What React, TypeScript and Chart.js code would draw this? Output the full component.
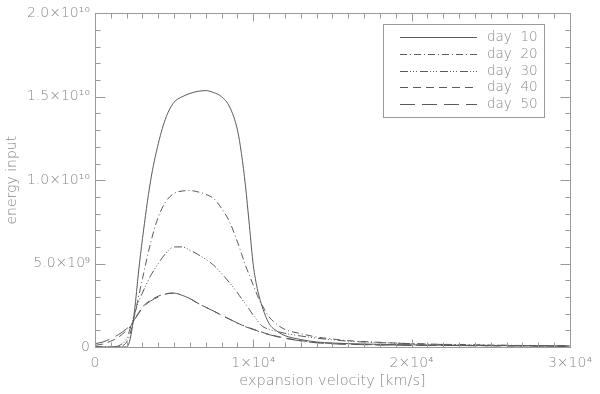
import React, { useEffect, useRef } from "react";
import { Chart, registerables } from "chart.js";

Chart.register(...registerables);

// expansion velocity [km/s]
const velocity = [0, 500, 1000, 1500, 2000, 2250, 2500, 2750, 3000, 3500, 4000, 4500, 5000, 5500, 6000, 6500, 7000, 7500, 8000, 8500, 9000, 9250, 9500, 9750, 10000, 10250, 10500, 11000, 11500, 12000, 13000, 14000, 15000, 16000, 18000, 20000, 22000, 24000, 26000, 28000, 30000];

// energy input in units of 10^10
const day10 = [0, 0, 0, 0, 0, 0.06, 0.22, 0.45, 0.65, 0.99, 1.22, 1.38, 1.468, 1.5, 1.52, 1.533, 1.537, 1.525, 1.5, 1.44, 1.3, 1.16, 0.97, 0.73, 0.49, 0.35, 0.26, 0.14, 0.095, 0.068, 0.045, 0.03, 0.024, 0.02, 0.016, 0.013, 0.011, 0.009, 0.008, 0.007, 0.006];
const day20 = [0, 0, 0, 0.003, 0.03, 0.09, 0.19, 0.3, 0.41, 0.62, 0.78, 0.875, 0.921, 0.935, 0.938, 0.93, 0.915, 0.89, 0.83, 0.75, 0.63, 0.56, 0.49, 0.43, 0.37, 0.31, 0.26, 0.18, 0.135, 0.105, 0.08, 0.06, 0.048, 0.038, 0.028, 0.02, 0.016, 0.013, 0.01, 0.008, 0.006];
const day30 = [0, 0, 0, 0.008, 0.05, 0.12, 0.2, 0.27, 0.325, 0.425, 0.5, 0.565, 0.6, 0.6, 0.58, 0.555, 0.525, 0.49, 0.44, 0.385, 0.325, 0.29, 0.26, 0.225, 0.19, 0.16, 0.13, 0.105, 0.093, 0.082, 0.066, 0.053, 0.043, 0.035, 0.026, 0.02, 0.015, 0.012, 0.01, 0.008, 0.006];
const day40 = [0.01, 0.018, 0.035, 0.06, 0.1, 0.125, 0.165, 0.205, 0.24, 0.28, 0.305, 0.32, 0.323, 0.31, 0.29, 0.262, 0.238, 0.215, 0.19, 0.167, 0.143, 0.133, 0.124, 0.115, 0.107, 0.099, 0.09, 0.076, 0.064, 0.054, 0.038, 0.027, 0.021, 0.017, 0.013, 0.011, 0.009, 0.008, 0.007, 0.006, 0.005];
const day50 = [0.02, 0.03, 0.05, 0.075, 0.11, 0.13, 0.165, 0.2, 0.235, 0.275, 0.3, 0.318, 0.323, 0.31, 0.29, 0.262, 0.238, 0.215, 0.19, 0.167, 0.143, 0.132, 0.122, 0.113, 0.105, 0.097, 0.088, 0.074, 0.062, 0.052, 0.036, 0.025, 0.019, 0.016, 0.012, 0.01, 0.009, 0.008, 0.007, 0.006, 0.005];

const seriesLabels = ["day  10", "day  20", "day  30", "day  40", "day  50"];
const seriesValues = [day10, day20, day30, day40, day50];
const seriesDashes = [[], [7, 3, 1, 3], [8, 2, 1, 2, 1, 2, 1, 3], [8, 5], [15, 7]];

const xTickLabels: Record<number, string> = { 0: "0", 10000: "1×10⁴", 20000: "2×10⁴", 30000: "3×10⁴" };
const yTickLabels: Record<string, string> = { "0": "0", "0.5": "5.0×10⁹", "1": "1.0×10¹⁰", "1.5": "1.5×10¹⁰", "2": "2.0×10¹⁰" };

const FONT = "DejaVu Sans";
const TEXT = "#8a8a8a";
const AXIS = "#9a9a9a";
const LINE = "#5a5a5a";

const framePlugin = {
  id: "idlFrame",
  afterDraw(chart: any) {
    const { ctx, chartArea: a, scales } = chart;
    const xs = scales.x;
    const ys = scales.y;
    ctx.save();
    ctx.strokeStyle = AXIS;
    ctx.lineWidth = 1;
    ctx.setLineDash([]);
    const L = Math.round(a.left) + 0.5;
    const R = Math.round(a.right) + 0.5;
    const T = Math.round(a.top) + 0.5;
    const B = Math.round(a.bottom) + 0.5;
    ctx.strokeRect(L, T, R - L, B - T);
    ctx.beginPath();
    for (let v = 0; v <= 30000; v += 1000) {
      const px = Math.round(xs.getPixelForValue(v)) + 0.5;
      const len = v % 10000 === 0 ? 8 : 5;
      ctx.moveTo(px, B);
      ctx.lineTo(px, B - len);
      ctx.moveTo(px, T);
      ctx.lineTo(px, T + len);
    }
    for (let i = 0; i <= 20; i++) {
      const py = Math.round(ys.getPixelForValue(i / 10)) + 0.5;
      const len = i % 5 === 0 ? 10 : 5;
      ctx.moveTo(L, py);
      ctx.lineTo(L + len, py);
      ctx.moveTo(R, py);
      ctx.lineTo(R - len, py);
    }
    ctx.stroke();

    // legend
    const bx = 383.5, by = 24.5, bw = 161, bh = 93;
    ctx.strokeRect(bx, by, bw, bh);
    ctx.font = `200 13.5px "${FONT}"`;
    ctx.textBaseline = "middle";
    ctx.textAlign = "left";
    chart.data.datasets.forEach((ds: any, i: number) => {
      const yy = Math.round(37 + i * 16.8) + 0.5;
      ctx.strokeStyle = LINE;
      ctx.setLineDash(ds.borderDash || []);
      ctx.beginPath();
      ctx.moveTo(400, yy);
      ctx.lineTo(477, yy);
      ctx.stroke();
      ctx.setLineDash([]);
      ctx.fillStyle = TEXT;
      ctx.fillText(ds.label, 487, yy);
    });
    ctx.restore();
  },
};

export default function App() {
  const ref = useRef<HTMLCanvasElement | null>(null);
  useEffect(() => {
    document.body.style.margin = "0";
    const canvas = ref.current;
    if (!canvas) return;
    const chart = new Chart(canvas, {
      type: "line",
      data: {
        datasets: seriesValues.map((vals, i) => ({
          label: seriesLabels[i],
          data: velocity.map((v, j) => ({ x: v, y: vals[j] })),
          borderColor: LINE,
          borderWidth: 1,
          borderDash: seriesDashes[i],
          pointRadius: 0,
          fill: false,
          cubicInterpolationMode: "monotone" as const,
        })),
      },
      options: {
        animation: false,
        responsive: true,
        maintainAspectRatio: false,
        layout: { padding: { top: 6, right: 25, left: 0, bottom: 0 } },
        plugins: { legend: { display: false }, tooltip: { enabled: false } },
        scales: {
          x: {
            type: "linear",
            min: 0,
            max: 30000,
            grid: { display: false, drawTicks: false },
            border: { display: false },
            ticks: {
              stepSize: 10000,
              padding: 8,
              color: TEXT,
              font: { family: FONT, size: 14, weight: "200" as any },
              maxRotation: 0,
              autoSkip: false,
              callback: (v: any) => xTickLabels[Number(v)] ?? "",
            },
            title: {
              display: true,
              text: "expansion velocity [km/s]",
              color: TEXT,
              font: { family: FONT, size: 14.5, weight: "200" as any },
              padding: { top: 0, bottom: 4 },
            },
            afterFit: (s: any) => {
              s.height = 47;
            },
          },
          y: {
            type: "linear",
            min: 0,
            max: 2,
            grid: { display: false, drawTicks: false },
            border: { display: false },
            ticks: {
              stepSize: 0.5,
              padding: 5,
              color: TEXT,
              font: { family: FONT, size: 14, weight: "200" as any },
              autoSkip: false,
              callback: (v: any) => yTickLabels[String(Number(v))] ?? "",
            },
            title: {
              display: true,
              text: "energy input",
              color: TEXT,
              font: { family: FONT, size: 14, weight: "200" as any },
              padding: { top: 4, bottom: 0 },
            },
            afterFit: (s: any) => {
              s.width = 95;
            },
          },
        },
      },
      plugins: [framePlugin],
    });
    return () => chart.destroy();
  }, []);
  return (
    <div style={{ position: "absolute", left: 0, top: 0, width: 600, height: 394 }}>
      <canvas ref={ref} />
    </div>
  );
}
